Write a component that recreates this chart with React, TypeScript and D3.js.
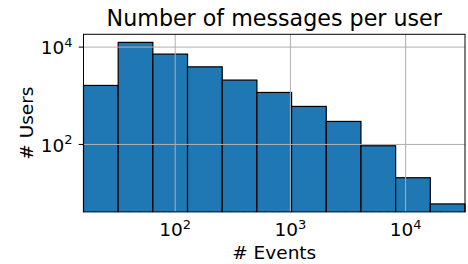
import { useEffect, useRef } from "react";
import * as d3 from "d3";

// histogram bins: edges are powers of two, 2^4 .. 2^15
const binEdges = [16, 32, 64, 128, 256, 512, 1024, 2048, 4096, 8192, 16384, 32768];
const userCounts = [1630, 12500, 7180, 3930, 2100, 1170, 604, 297, 94, 20.7, 6];
const xTickExps = [2, 3, 4];
const yTickExps = [2, 4];

const W = 468;
const H = 264;
const margin = { top: 34.3, right: 3, bottom: 52, left: 83.5 };
const FONT = "DejaVu Sans, sans-serif";

export default function App() {
  const ref = useRef<SVGSVGElement>(null);

  useEffect(() => {
    const svg = d3.select(ref.current);
    svg.selectAll("*").remove();
    const iw = W - margin.left - margin.right;
    const ih = H - margin.top - margin.bottom;

    const x = d3.scaleLog().domain([binEdges[0], binEdges[binEdges.length - 1]]).range([0, iw]);
    // matplotlib-like 5% log margins around the data
    const lo = Math.log10(d3.min(userCounts)!);
    const hi = Math.log10(d3.max(userCounts)!);
    const pad = (hi - lo) * 0.05;
    const y = d3.scaleLog().domain([10 ** (lo - pad), 10 ** (hi + pad)]).range([ih, 0]);

    const g = svg.append("g").attr("transform", `translate(${margin.left},${margin.top})`);

    // bars
    g.selectAll("rect.bar")
      .data(userCounts)
      .join("rect")
      .attr("x", (_, i) => x(binEdges[i]))
      .attr("width", (_, i) => x(binEdges[i + 1]) - x(binEdges[i]))
      .attr("y", (d) => y(d))
      .attr("height", (d) => ih + 2 - y(d))
      .attr("fill", "#1f77b4")
      .attr("stroke", "#000")
      .attr("stroke-width", 1.2);

    // clip overflow below axis by drawing white strip
    svg.append("rect").attr("x", 0).attr("y", margin.top + ih + 0.5).attr("width", W).attr("height", 6).attr("fill", "#fff");

    // grid (drawn above the bars, like matplotlib)
    g.selectAll("line.gx")
      .data(xTickExps)
      .join("line")
      .attr("x1", (e) => x(10 ** e))
      .attr("x2", (e) => x(10 ** e))
      .attr("y1", 0)
      .attr("y2", ih)
      .attr("stroke", "#b0b0b0")
      .attr("stroke-width", 1);
    g.selectAll("line.gy")
      .data(yTickExps)
      .join("line")
      .attr("y1", (e) => y(10 ** e))
      .attr("y2", (e) => y(10 ** e))
      .attr("x1", 0)
      .attr("x2", iw)
      .attr("stroke", "#b0b0b0")
      .attr("stroke-width", 1);

    // spines
    g.append("rect")
      .attr("x", 0)
      .attr("y", 0)
      .attr("width", iw)
      .attr("height", ih)
      .attr("fill", "none")
      .attr("stroke", "#000")
      .attr("stroke-width", 1);

    // x minor ticks
    const minor: number[] = [];
    for (let e = 1; e <= 4; e++) for (let k = 2; k <= 9; k++) {
      const v = k * 10 ** e;
      if (v > binEdges[0] && v < binEdges[binEdges.length - 1]) minor.push(v);
    }
    g.selectAll("line.mx")
      .data(minor)
      .join("line")
      .attr("x1", (v) => x(v))
      .attr("x2", (v) => x(v))
      .attr("y1", ih)
      .attr("y2", ih + 2.8)
      .attr("stroke", "#000")
      .attr("stroke-width", 0.8);

    // x major ticks + labels
    const xt = g.selectAll("g.xt").data(xTickExps).join("g").attr("transform", (e) => `translate(${x(10 ** e)},${ih})`);
    xt.append("line").attr("y2", 4.8).attr("stroke", "#000").attr("stroke-width", 1);
    const xl = xt
      .append("text")
      .attr("y", 24)
      .attr("text-anchor", "middle")
      .attr("font-family", FONT)
      .attr("font-size", 18.5)
      .attr("fill", "#000");
    xl.append("tspan").text("10");
    xl.append("tspan").attr("dy", -7.5).attr("font-size", 13).text((e) => String(e));

    // y major ticks + labels
    const yt = g.selectAll("g.yt").data(yTickExps).join("g").attr("transform", (e) => `translate(0,${y(10 ** e)})`);
    yt.append("line").attr("x2", -4.8).attr("stroke", "#000").attr("stroke-width", 1);
    const yl = yt
      .append("text")
      .attr("x", -11)
      .attr("y", 7.3)
      .attr("text-anchor", "end")
      .attr("font-family", FONT)
      .attr("font-size", 18.5)
      .attr("fill", "#000");
    yl.append("tspan").text("10");
    yl.append("tspan").attr("dy", -7.5).attr("font-size", 13).text((e) => String(e));

    // axis labels
    svg
      .append("text")
      .attr("x", margin.left + iw / 2)
      .attr("y", 259)
      .attr("text-anchor", "middle")
      .attr("font-family", FONT)
      .attr("font-size", 18.5)
      .attr("fill", "#000")
      .text("# Events");
    svg
      .append("text")
      .attr("transform", `translate(32.5,${margin.top + ih / 2}) rotate(-90)`)
      .attr("text-anchor", "middle")
      .attr("font-family", FONT)
      .attr("font-size", 18.5)
      .attr("fill", "#000")
      .text("# Users");

    // title
    svg
      .append("text")
      .attr("x", margin.left + iw / 2)
      .attr("y", 26)
      .attr("text-anchor", "middle")
      .attr("font-family", FONT)
      .attr("font-size", 22.2)
      .attr("fill", "#000")
      .text("Number of messages per user");
  }, []);

  return (
    <svg
      ref={ref}
      width={W}
      height={H}
      style={{ position: "fixed", left: 0, top: 0, background: "#fff", display: "block" }}
    />
  );
}
